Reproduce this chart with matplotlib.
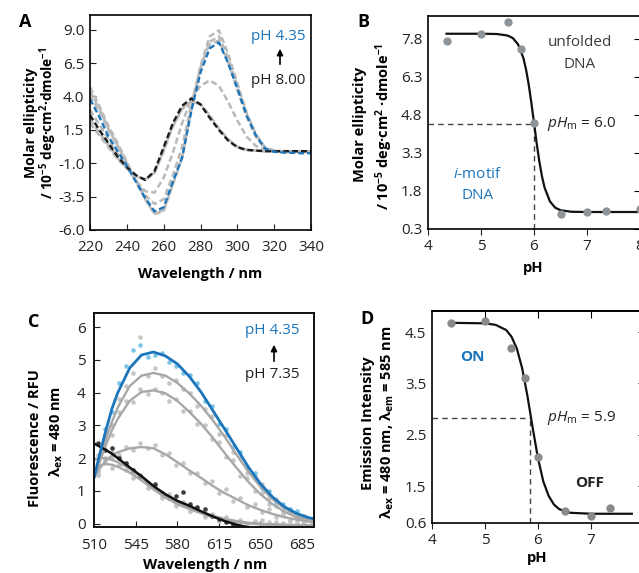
import matplotlib
matplotlib.use("Agg")
import matplotlib.pyplot as plt
import numpy as np

plt.rcParams['font.family'] = ['Open Sans', 'DejaVu Sans']
plt.rcParams['mathtext.fontset'] = 'custom'
plt.rcParams['mathtext.rm'] = 'Open Sans'
plt.rcParams['mathtext.it'] = 'Open Sans:italic'
plt.rcParams['mathtext.bf'] = 'Open Sans:bold'
plt.rcParams['axes.linewidth'] = 1.2

W, H = 639, 573
BLUE = '#1b75bb'

# ---------------- data: A, CD spectra ----------------
wl_a = [220, 225, 230, 235, 240, 245, 250, 255, 260, 265, 270, 275, 280,
        285, 290, 295, 300, 305, 310, 315, 320, 325, 330, 335, 340]
cd_ph800 = [2.6, 1.5, 0.5, -0.5, -1.3, -1.9, -2.25, -1.6, 0.2, 2.0, 3.3, 3.85, 3.4,
            2.4, 1.5, 0.7, 0.2, 0.0, -0.05, -0.1, -0.1, -0.1, -0.1, -0.1, -0.1]
cd_ph435 = [3.8, 2.5, 1.0, -0.1, -1.2, -2.4, -3.6, -4.6, -4.3, -2.4, -0.6, 2.9, 5.8,
            7.6, 8.05, 6.5, 4.6, 2.6, 1.1, 0.1, -0.15, -0.2, -0.22, -0.25, -0.25]
cd_gray = [
    [4.7, 3.3, 1.8, 0.5, -0.9, -2.3, -3.7, -4.8, -4.6, -2.6, -0.6, 3.1, 6.3,
     8.5, 8.95, 7.2, 5.0, 2.8, 1.2, 0.2, -0.05, -0.1, -0.1, -0.1, -0.1],
    [4.4, 3.1, 1.6, 0.3, -1.0, -2.35, -3.7, -4.75, -4.5, -2.5, -0.5, 3.0, 6.1,
     8.1, 8.5, 6.9, 4.8, 2.7, 1.15, 0.15, -0.1, -0.15, -0.15, -0.15, -0.15],
    [4.1, 2.9, 1.5, 0.3, -1.0, -2.3, -3.4, -4.05, -3.7, -1.9, 0.2, 3.4, 6.2,
     7.9, 8.2, 6.6, 4.5, 2.5, 1.0, 0.1, -0.1, -0.15, -0.15, -0.15, -0.15],
    [3.0, 1.9, 0.8, -0.3, -1.3, -2.3, -3.1, -3.2, -2.1, -0.2, 2.0, 3.8, 4.8,
     5.2, 4.8, 3.6, 2.2, 1.0, 0.3, 0.0, -0.1, -0.1, -0.1, -0.1, -0.1],
    [2.0, 1.1, 0.2, -0.7, -1.4, -1.95, -2.2, -1.7, 0.0, 1.8, 3.1, 3.7, 3.45,
     2.6, 1.6, 0.8, 0.25, 0.0, -0.05, -0.1, -0.1, -0.1, -0.1, -0.1, -0.1],
    [2.3, 1.3, 0.35, -0.6, -1.35, -1.95, -2.25, -1.75, -0.1, 1.75, 3.05, 3.65, 3.4,
     2.5, 1.55, 0.75, 0.2, 0.0, -0.05, -0.1, -0.1, -0.1, -0.1, -0.1, -0.1],
]

# ---------------- data: B, CD at fixed wavelength vs pH ----------------
ph_b = [4.35, 5.0, 5.5, 5.75, 6.0, 6.5, 7.0, 7.35, 8.0]
ell_b = [7.71, 7.98, 8.46, 7.39, 4.47, 0.89, 0.97, 1.02, 1.08]
ph_fit_b = [4.35, 5.0, 5.3, 5.5, 5.6, 5.7, 5.8, 5.85, 5.9, 5.95, 6.0, 6.05, 6.1,
            6.15, 6.2, 6.3, 6.4, 6.5, 6.7, 7.0, 8.0]
fit_b = [8.00, 8.00, 7.99, 7.93, 7.83, 7.58, 7.04, 6.59, 6.00, 5.28, 4.49, 3.69, 2.97,
         2.38, 1.93, 1.39, 1.14, 1.04, 0.98, 0.97, 0.97]
phm_b, mid_b = 6.0, 4.43

# ---------------- data: C, fluorescence spectra ----------------
wl_c = [510, 515, 520, 525, 530, 540, 550, 560, 570, 580, 590, 600, 610, 620,
        630, 640, 650, 660, 670, 680, 690, 695]
fl_ph435 = [1.4, 2.15, 2.85, 3.5, 4.0, 4.75, 5.15, 5.24, 5.12, 4.88, 4.5, 4.02, 3.45,
            2.88, 2.3, 1.72, 1.22, 0.82, 0.52, 0.32, 0.19, 0.15]
fl_gray = [
    [1.4, 2.0, 2.6, 3.1, 3.55, 4.2, 4.52, 4.6, 4.52, 4.3, 3.98, 3.6, 3.15, 2.65,
     2.1, 1.58, 1.12, 0.75, 0.47, 0.28, 0.12, 0.07],
    [1.4, 1.9, 2.4, 2.85, 3.2, 3.75, 4.02, 4.07, 3.98, 3.75, 3.42, 3.05, 2.62, 2.15,
     1.7, 1.27, 0.9, 0.6, 0.37, 0.2, 0.08, 0.05],
    [1.4, 1.7, 1.93, 2.08, 2.18, 2.3, 2.34, 2.3, 2.12, 1.88, 1.63, 1.4, 1.15, 0.93,
     0.75, 0.56, 0.42, 0.3, 0.2, 0.13, 0.07, 0.05],
    [1.95, 2.0, 2.0, 1.95, 1.88, 1.68, 1.42, 1.12, 0.86, 0.65, 0.5, 0.36, 0.24, 0.15,
     0.08, 0.03, 0.0, -0.02, -0.03, -0.04, -0.05, -0.05],
    [1.6, 1.78, 1.82, 1.8, 1.74, 1.56, 1.32, 1.05, 0.8, 0.6, 0.45, 0.32, 0.2, 0.12,
     0.05, 0.01, -0.02, -0.03, -0.04, -0.05, -0.05, -0.05],
]
wl_c_black = [510, 515, 520, 525, 530, 540, 550, 560, 570, 580, 590, 600, 610, 620, 630, 640]
fl_ph735 = [2.45, 2.35, 2.25, 2.14, 2.0, 1.72, 1.45, 1.15, 0.9, 0.7, 0.55, 0.38, 0.22,
            0.08, -0.03, -0.11]

wl_pts = [513, 519, 525, 531, 537, 543, 549, 555, 561, 567, 573, 579, 585, 591, 597,
          603, 609, 615, 621, 627, 633, 639, 645, 651, 657, 663, 669, 675, 681, 687, 693]
pts_ph435 = [1.7, 2.9, 3.4, 4.3, 4.8, 5.3, 5.45, 5.1, 5.15, 5.2, 4.95, 4.8, 4.6, 4.55,
             4.3, 3.75, 3.6, 3.05, 2.9, 2.35, 2.2, 1.7, 1.55, 1.1, 1.0, 0.65, 0.6, 0.45,
             0.4, 0.2, 0.1]
pts_gray = [
    [1.6, 2.7, 3.0, 3.8, 4.2, 4.6, 5.7, 4.5, 4.75, 4.5, 4.3, 4.4, 4.1, 4.0, 3.6, 3.5,
     3.3, 2.75, 2.7, 2.2, 2.05, 1.55, 1.45, 1.2, 0.8, 0.75, 0.4, 0.45, 0.2, 0.25, 0.05],
    [1.5, 2.5, 2.7, 3.4, 3.75, 3.7, 4.1, 3.95, 4.1, 4.0, 3.75, 3.8, 3.45, 3.45, 3.05,
     3.0, 2.6, 2.5, 2.05, 1.95, 1.45, 1.4, 1.0, 0.95, 0.6, 0.55, 0.3, 0.35, 0.1, 0.15, 0.0],
    [1.5, 2.0, 2.2, 2.1, 2.35, 2.25, 2.45, 2.3, 2.4, 2.1, 2.15, 1.8, 1.85, 1.55, 1.55,
     1.25, 1.3, 0.95, 1.05, 0.7, 0.8, 0.5, 0.6, 0.35, 0.45, 0.2, 0.3, 0.1, 0.2, 0.05, 0.1],
    [2.1, 1.9, 2.05, 1.8, 1.85, 1.55, 1.5, 1.2, 1.15, 0.85, 0.9, 0.6, 0.65, 0.4, 0.45,
     0.25, 0.3, 0.1, 0.2, 0.05, 0.12, 0.0, 0.08, -0.05, 0.05, -0.06, 0.02, -0.04, 0.06,
     -0.05, 0.03],
    [1.55, 1.9, 1.7, 1.8, 1.65, 1.4, 1.4, 1.1, 1.1, 0.8, 0.78, 0.55, 0.6, 0.38, 0.42,
     0.2, 0.25, 0.08, 0.15, 0.0, 0.08, -0.05, 0.04, 0.1, -0.03, 0.05, -0.05, 0.08, -0.02,
     0.04, -0.06],
]
pts_ph735 = [2.45, 2.25, 2.3, 2.0, 1.85, 1.65, 1.45, 1.25, 1.2, 0.95, 0.8, 0.85, 0.98,
             0.6, 0.5, 0.45, 0.25, 0.15, 0.05, -0.05]

# ---------------- data: D, emission at 585 nm vs pH ----------------
ph_d = [4.35, 5.0, 5.5, 5.75, 6.0, 6.5, 7.0, 7.35]
em_d = [4.68, 4.72, 4.19, 3.60, 2.07, 1.01, 0.92, 1.08]
ph_fit_d = [4.35, 5.0, 5.2, 5.4, 5.5, 5.6, 5.7, 5.8, 5.87, 5.9, 6.0, 6.1, 6.2, 6.3,
            6.4, 6.6, 6.8, 7.0, 7.77]
fit_d = [4.68, 4.67, 4.64, 4.54, 4.41, 4.18, 3.80, 3.26, 2.82, 2.63, 2.04, 1.59, 1.31,
         1.14, 1.05, 0.98, 0.97, 0.96, 0.96]
phm_d, mid_d = 5.85, 2.83
yticks_d = [0.78, 1.5, 2.5, 3.5, 4.5]
ytick_labels_d = ['0.6', '1.5', '2.5', '3.5', '4.5']


def box(l, t, r, b):
    # pixel box -> figure rect
    return [l / W, 1 - b / H, (r - l) / W, (b - t) / H]


def ftext(x, y, s, **kw):
    fig.text(x / W, 1 - y / H, s, **kw)


def farrow(x, y0, y1):
    fig.add_artist(matplotlib.patches.FancyArrowPatch(
        (x / W, 1 - y0 / H), (x / W, 1 - y1 / H), transform=fig.transFigure,
        arrowstyle='-|>', mutation_scale=9, color='black', lw=1.2))


fig = plt.figure(figsize=(W / 100, H / 100), dpi=100)

# ---------------- A ----------------
ax = fig.add_axes(box(90, 15, 311, 230))
for g in cd_gray:
    ax.plot(wl_a, g, color='#b9b9b9', lw=1.8, dashes=(2.5, 1.3))
ax.plot(wl_a, cd_ph800, color='#1a1a1a', lw=1.7, dashes=(2.5, 1.3))
ax.plot(wl_a, cd_ph435, color=BLUE, lw=1.7, dashes=(2.5, 1.3))
ax.set_xlim(220, 340)
ax.set_ylim(-6, 10.1)
ax.set_xticks([220, 240, 260, 280, 300, 320, 340])
ax.set_yticks([-6, -3.5, -1, 1.5, 4, 6.5, 9])
ax.yaxis.set_major_formatter(matplotlib.ticker.FormatStrFormatter('%.1f'))
ax.tick_params(direction='in', length=4, labelsize=11, colors='#222')
ax.tick_params(axis='x', pad=7)
ax.tick_params(axis='y', pad=4)

ftext(25, 22, 'A', fontsize=13, fontweight='bold', ha='center', va='center')
ftext(31, 123, 'Molar ellipticity', rotation=90, fontsize=10, fontweight='bold',
      ha='center', va='center')
ftext(48, 123, r'/ 10$^{\mathbf{-5}}$ deg·cm$^{\mathbf{2}}$·dmole$^{\mathbf{-1}}$',
      rotation=90, fontsize=9.8, fontweight='bold', ha='center', va='center')
ftext(200, 274, 'Wavelength / nm', fontsize=10.5, fontweight='bold', ha='center', va='center')
ftext(278, 37, 'pH 4.35', color=BLUE, fontsize=11, ha='center', va='center')
ftext(278, 80, 'pH 8.00', color='#222', fontsize=11, ha='center', va='center')
farrow(280, 67, 46)

# ---------------- B ----------------
ax = fig.add_axes(box(428, 16, 640, 229))
ax.plot([4, phm_b], [mid_b, mid_b], color='#444', lw=1, dashes=(4, 3))
ax.plot([phm_b, phm_b], [0.3, mid_b], color='#444', lw=1, dashes=(4, 3))
ax.plot(ph_fit_b, fit_b, color='#111', lw=1.6)
ax.plot(ph_b, ell_b, 'o', color='#8d949a', ms=6, mec='none', clip_on=False)
ax.set_xlim(4, 8)
ax.set_ylim(0.3, 8.7)
ax.set_xticks([4, 5, 6, 7, 8])
ax.set_yticks([0.3, 1.8, 3.3, 4.8, 6.3, 7.8])
ax.yaxis.set_major_formatter(matplotlib.ticker.FormatStrFormatter('%.1f'))
ax.tick_params(axis='x', direction='out', length=4, pad=3, labelsize=11, colors='#222')
ax.tick_params(axis='y', length=0, pad=4, labelsize=11, colors='#222')
sy = ax.secondary_yaxis('right')
sy.set_yticks([0.3, 1.8, 3.3, 4.8, 6.3, 7.8])
sy.tick_params(direction='in', length=4, labelright=False)

ftext(363, 22, 'B', fontsize=13, fontweight='bold', ha='center', va='center')
ftext(360, 124, 'Molar ellipticity', rotation=90, fontsize=10.5, fontweight='bold',
      ha='center', va='center')
ftext(384, 126, r'/ 10$^{\mathbf{-5}}$ deg·cm$^{\mathbf{2}}$ ·dmole$^{\mathbf{-1}}$',
      rotation=90, fontsize=10.5, fontweight='bold', ha='center', va='center')
ftext(533, 268, 'pH', fontsize=10.5, fontweight='bold', ha='center', va='center')
ftext(580, 43, 'unfolded', color='#3a3a3a', fontsize=11, ha='center', va='center')
ftext(580, 65, 'DNA', color='#3a3a3a', fontsize=11, ha='center', va='center')
ftext(478, 174, r'$\mathit{i}$-motif', color=BLUE, fontsize=11, ha='center', va='center')
ftext(478, 195, 'DNA', color=BLUE, fontsize=11, ha='center', va='center')
ftext(547, 124, r'$\mathit{pH}_{\mathrm{m}}$ = 6.0', color='#222', fontsize=11,
      ha='left', va='center')

# ---------------- C ----------------
ax = fig.add_axes(box(94, 313, 314, 527))
for p in pts_gray:
    ax.plot(wl_pts, p, 'o', color='#c6c6c6', ms=3.3, mec='none')
ax.plot(wl_pts, pts_ph435, 'o', color='#7cc4e6', ms=3.3, mec='none')
ax.plot(wl_pts[:len(pts_ph735)], pts_ph735, 'o', color='#3c3c3c', ms=3.3, mec='none')
for g in fl_gray:
    ax.plot(wl_c, g, color='#a8a8a8', lw=1.7)
ax.plot(wl_c_black, fl_ph735, color='#111', lw=1.8)
ax.plot(wl_c, fl_ph435, color=BLUE, lw=2)
ax.set_xlim(510, 695)
ax.set_ylim(-0.1, 6.43)
ax.set_xticks([510, 545, 580, 615, 650, 685])
ax.set_yticks([0, 1, 2, 3, 4, 5, 6])
ax.tick_params(direction='in', length=4, labelsize=11, colors='#222')
ax.tick_params(axis='x', pad=8)
ax.tick_params(axis='y', pad=6)
for s in ax.spines.values():
    s.set_linewidth(1.4)
    s.set_color('#111')

ftext(34, 322, 'C', fontsize=13, fontweight='bold', ha='center', va='center')
ftext(35, 438, 'Fluorescence / RFU', rotation=90, fontsize=10.5, fontweight='bold',
      ha='center', va='center')
ftext(56, 431, r'λ$_{\mathbf{ex}}$ = 480 nm', rotation=90, fontsize=10.5,
      fontweight='bold', ha='center', va='center')
ftext(205, 565, 'Wavelength / nm', fontsize=10.5, fontweight='bold', ha='center', va='center')
ftext(272, 331, 'pH 4.35', color=BLUE, fontsize=11, ha='center', va='center')
ftext(272, 375, 'pH 7.35', color='#222', fontsize=11, ha='center', va='center')
farrow(274, 364, 342)

# ---------------- D ----------------
ax = fig.add_axes(box(432, 311, 644, 523))
ax.plot([4, phm_d], [mid_d, mid_d], color='#444', lw=1, dashes=(4, 3))
ax.plot([phm_d, phm_d], [yticks_d[0], mid_d], color='#444', lw=1, dashes=(4, 3))
ax.plot(ph_fit_d, fit_d, color='#111', lw=1.6)
ax.plot(ph_d, em_d, 'o', color='#8a8a8a', ms=6, mec='none', clip_on=False)
ax.set_xlim(4, 8)
ax.set_ylim(yticks_d[0], 4.91)
ax.set_xticks([4, 5, 6, 7])
ax.set_yticks(yticks_d)
ax.set_yticklabels(ytick_labels_d)
ax.tick_params(axis='x', direction='out', length=4, pad=3, labelsize=11, colors='#222')
ax.tick_params(axis='y', length=0, pad=4, labelsize=11, colors='#222')
sy = ax.secondary_yaxis('right')
sy.set_yticks(yticks_d[1:])
sy.tick_params(direction='in', length=4, labelright=False)
sx = ax.secondary_xaxis('top')
sx.set_xticks([5, 6, 7])
sx.tick_params(direction='in', length=5, labeltop=False)

ftext(367, 319, 'D', fontsize=13, fontweight='bold', ha='center', va='center')
ftext(368, 423, 'Emission Intensity', rotation=90, fontsize=10.5, fontweight='bold',
      ha='center', va='center')
ftext(387, 422, r'λ$_{\mathbf{ex}}$ = 480 nm, λ$_{\mathbf{em}}$ = 585 nm', rotation=90,
      fontsize=10.5, fontweight='bold', ha='center', va='center')
ftext(537, 558, 'pH', fontsize=10.5, fontweight='bold', ha='center', va='center')
ftext(472, 357, 'ON', color=BLUE, fontsize=11, fontweight='bold', ha='center', va='center')
ftext(590, 483, 'OFF', color='#222', fontsize=11, fontweight='bold', ha='center', va='center')
ftext(547, 418, r'$\mathit{pH}_{\mathrm{m}}$ = 5.9', color='#222', fontsize=11,
      ha='left', va='center')

fig.savefig('out.png', dpi=100)
